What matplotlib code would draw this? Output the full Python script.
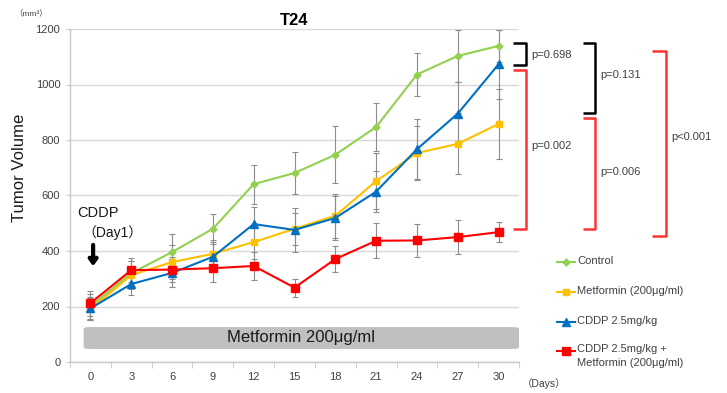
import matplotlib
matplotlib.use("Agg")
import matplotlib.pyplot as plt
from matplotlib.patches import FancyBboxPatch
from matplotlib.lines import Line2D

plt.rcParams['font.family'] = ['Liberation Sans', 'Noto Sans CJK JP', 'DejaVu Sans']

# Measurement days and mean tumor volumes (mm^3) with error bars
days = [0, 3, 6, 9, 12, 15, 18, 21, 24, 27, 30]
day_labels = ['0', '3', '6', '9', '12', '15', '18', '21', '24', '27', '30']

control = [200, 320, 396, 480, 641, 681, 747, 847, 1036, 1103, 1139]
control_err = [45, 45, 65, 55, 70, 76, 102, 86, 78, 93, 57]

metformin = [190, 313, 360, 390, 432, 480, 527, 652, 753, 786, 858]
metformin_err = [40, 50, 60, 50, 60, 58, 80, 100, 96, 110, 125]

cddp = [193, 281, 321, 379, 497, 476, 519, 614, 767, 895, 1073]
cddp_err = [40, 40, 50, 55, 60, 78, 78, 75, 108, 113, 125]

combo = [212, 331, 333, 338, 346, 268, 371, 437, 438, 450, 468]
combo_err = [45, 42, 45, 50, 50, 32, 46, 64, 58, 60, 36]

series_names = ['Control', 'Metformin (200μg/ml)', 'CDDP 2.5mg/kg',
                'CDDP 2.5mg/kg +\nMetformin (200μg/ml)']
colors = ['#92d050', '#ffc000', '#0070c0', '#ff0000']
markers = ['D', 's', '^', 's']
msizes = [3.5, 5, 5.5, 6]

p_labels = ['p=0.698', 'p=0.002', 'p=0.131', 'p=0.006', 'p<0.001']

W, H = 727, 393
fig = plt.figure(figsize=(W / 100, H / 100), dpi=100)
ax = fig.add_axes([70 / W, 1 - 362 / H, (519 - 70) / W, (362 - 29) / H])

ax.set_xlim(-1.5, 31.5)
ax.set_ylim(0, 1200)
ax.set_yticks(range(0, 1201, 200))
ax.set_xticks(days)
ax.set_xticklabels(day_labels)
ax.set_xticks([d - 1.5 for d in days] + [31.5], minor=True)
ax.tick_params(axis='x', which='major', length=0, labelsize=8, labelcolor='#404040', pad=7)
ax.tick_params(axis='x', which='minor', length=4, color='#c8c8c8', direction='out')
ax.tick_params(axis='y', length=3, color='#c8c8c8', labelsize=8, labelcolor='#404040', pad=4)
ax.yaxis.grid(True, color='#d9d9d9', linewidth=1)
ax.set_axisbelow(True)
for s in ['top', 'right']:
    ax.spines[s].set_visible(False)
for s in ['left', 'bottom']:
    ax.spines[s].set_color('#c8c8c8')
    ax.spines[s].set_linewidth(1)

# Treatment band
band = FancyBboxPatch((-0.5, 47), 32.0, 79, boxstyle='round,pad=0,rounding_size=0.5',
                      mutation_aspect=12, facecolor='#c0c0c0', edgecolor='none', zorder=1)
ax.add_patch(band)
ax.text(15.5, 86.5, 'Metformin 200μg/ml', ha='center', va='center', fontsize=12, color='#1a1a1a', zorder=2)

handles = []
for vals, errs, c, m, ms, name in zip([control, metformin, cddp, combo],
                                      [control_err, metformin_err, cddp_err, combo_err],
                                      colors, markers, msizes, series_names):
    ax.errorbar(days, vals, yerr=errs, fmt='none', ecolor='#8c8c8c', elinewidth=0.8,
                capsize=2, capthick=0.8, zorder=3)
    h, = ax.plot(days, vals, color=c, marker=m, markersize=ms, linewidth=1.5,
                 markeredgecolor=c, zorder=4, label=name)
    handles.append(h)

ax.set_title('T24', fontsize=12, fontweight='bold', pad=3)
fig.text(20 / W, 1 - 168 / H, 'Tumor Volume', fontsize=12, rotation=90,
         ha='center', va='center', color='#1a1a1a')

fig.text(14 / W, 1 - 13 / H, '（mm³）', fontsize=6, color='#404040', ha='left', va='center')
fig.text(522 / W, 1 - 384 / H, '（Days）', fontsize=7.5, color='#404040', ha='left', va='center')

# Cisplatin dosing annotation
ax.text(-1, 537, 'CDDP', fontsize=10.5, ha='left', va='center', color='#1a1a1a')
ax.text(-0.6, 465, '（Day1）', fontsize=10, ha='left', va='center', color='#1a1a1a')
ax.annotate('', xy=(0.2, 335), xytext=(0.2, 432),
            arrowprops=dict(arrowstyle='-|>,head_width=0.25,head_length=0.35', color='black', lw=3))

# Legend drawn entry by entry
leg_y = [262, 292, 322, 351]
for h, y, name in zip(handles, leg_y, series_names):
    fig.add_artist(Line2D([557 / W, 575 / W], [1 - y / H] * 2, transform=fig.transFigure,
                          color=h.get_color(), linewidth=1.5))
    fig.add_artist(Line2D([566 / W], [1 - y / H], transform=fig.transFigure,
                          color=h.get_color(), marker=h.get_marker(),
                          markersize=h.get_markersize(), linestyle='none'))
    fig.text(577 / W, 1 - (y - 6.5) / H, name, fontsize=8, color='#404040',
             ha='left', va='top', linespacing=1.45)


def bracket(x0, x1, y0, y1, color):
    pts_x = [x0, x1, x1, x0]
    pts_y = [y0, y0, y1, y1]
    fig.add_artist(Line2D([p / W for p in pts_x], [1 - p / H for p in pts_y],
                          transform=fig.transFigure, color=color, linewidth=1.8,
                          solid_joinstyle='round', solid_capstyle='butt'))


brackets = [(513, 526, 43, 65, 'black'), (513, 526, 70, 229, '#ff3333'),
            (583, 595, 43, 113, 'black'), (583, 595, 118, 229, '#ff3333'),
            (652, 666, 51, 236, '#ff3333')]
label_pos = [(531, 55), (531, 146), (600, 75), (600, 172), (671, 137)]
for (x0, x1, y0, y1, c), (lx, ly), lab in zip(brackets, label_pos, p_labels):
    bracket(x0, x1, y0, y1, c)
    fig.text(lx / W, 1 - ly / H, lab, fontsize=8, color='#404040', ha='left', va='center')

fig.savefig('out.png', dpi=100)
